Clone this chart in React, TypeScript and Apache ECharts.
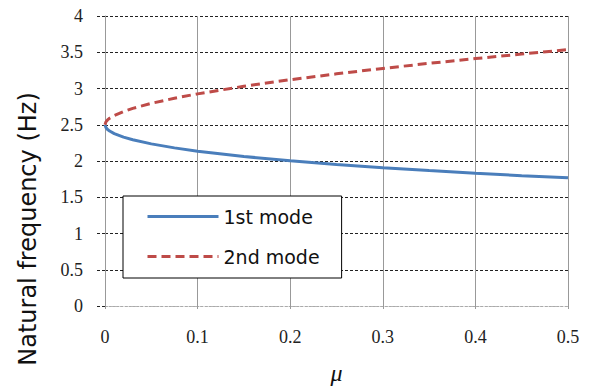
import React, { useEffect, useRef } from "react";
import * as echarts from "echarts";

const mu = [0, 0.001, 0.0025, 0.005, 0.01, 0.02, 0.03, 0.05, 0.075, 0.1, 0.15, 0.2, 0.25, 0.3, 0.35, 0.4, 0.45, 0.5];
const mode1 = [2.5, 2.461, 2.438, 2.413, 2.378, 2.329, 2.293, 2.236, 2.181, 2.136, 2.062, 2.003, 1.952, 1.907, 1.868, 1.831, 1.798, 1.768];
const mode2 = [2.5, 2.54, 2.563, 2.59, 2.628, 2.683, 2.726, 2.795, 2.866, 2.926, 3.031, 3.121, 3.202, 3.277, 3.347, 3.413, 3.475, 3.536];
const seriesNames = ["1st mode", "2nd mode"];
const yTitle = "Natural frequency (Hz)";
const xTitle = "μ";

const SERIF = "'Liberation Serif', 'DejaVu Serif', serif";
const WIDE = "'DejaVu Sans', sans-serif";
const BLUE = "#4a7ebb";
const RED = "#be4b48";

export default function App() {
  const ref = useRef<HTMLDivElement>(null);
  useEffect(() => {
    if (!ref.current) return;
    const chart = echarts.init(ref.current, undefined, { renderer: "svg" });
    chart.setOption({
      animation: false,
      backgroundColor: "#fff",
      grid: { left: 105, right: 24, top: 16, bottom: 79 },
      graphic: [
        {
          type: "text",
          x: 28,
          y: 229,
          rotation: Math.PI / 2,
          style: {
            text: yTitle,
            fontFamily: WIDE,
            fontSize: 24,
            fill: "#111",
            textAlign: "center",
            textVerticalAlign: "middle",
          },
        },
      ],
      legend: {
        orient: "vertical",
        left: 123,
        top: 196,
        padding: [11, 22, 12, 23],
        itemWidth: 71,
        itemHeight: 14,
        itemGap: 21,
        backgroundColor: "#fff",
        borderColor: "#000",
        borderWidth: 1,
        borderRadius: 0,
        itemStyle: { opacity: 0 },
        textStyle: { fontFamily: WIDE, fontSize: 19, color: "#111" },
        data: [
          { name: seriesNames[0], itemStyle: { opacity: 0 }, lineStyle: { color: BLUE, width: 3 } },
          { name: seriesNames[1], itemStyle: { opacity: 0 }, lineStyle: { color: RED, width: 3, type: [9, 5] } },
        ],
      },
      xAxis: {
        type: "value",
        min: 0,
        max: 0.5,
        interval: 0.1,
        name: xTitle,
        nameLocation: "middle",
        nameGap: 55,
        nameTextStyle: { fontFamily: SERIF, fontSize: 24, fontStyle: "italic", color: "#111" },
        axisLine: { show: true, lineStyle: { color: "#aaa", type: [2, 2], width: 1 } },
        axisTick: { show: true, length: 3, lineStyle: { color: "#999" } },
        axisLabel: { margin: 22, fontFamily: SERIF, fontSize: 18, color: "#222" },
        splitLine: { show: true, lineStyle: { color: "#999", width: 1 } },
      },
      yAxis: {
        type: "value",
        min: 0,
        max: 4,
        interval: 0.5,
        axisLine: { show: true, lineStyle: { color: "#999", width: 1 } },
        axisTick: { show: true, length: 8, lineStyle: { color: "#222", type: [3, 2] } },
        axisLabel: { margin: 22, fontFamily: SERIF, fontSize: 18, color: "#222" },
        splitLine: {
          show: true,
          lineStyle: {
            color: ["#bbb", "#222", "#222", "#222", "#222", "#222", "#222", "#222", "#222"],
            type: [3, 2],
            width: 1,
          },
        },
      },
      series: [
        {
          name: seriesNames[0],
          type: "line",
          smooth: false,
          symbol: "none",
          data: mu.map((m, i) => [m, mode1[i]]),
          lineStyle: { color: BLUE, width: 3 },
          itemStyle: { color: BLUE },
        },
        {
          name: seriesNames[1],
          type: "line",
          smooth: false,
          symbol: "none",
          data: mu.map((m, i) => [m, mode2[i]]),
          lineStyle: { color: RED, width: 3, type: [9, 5] },
          itemStyle: { color: RED },
        },
      ],
    });
    return () => chart.dispose();
  }, []);
  return <div ref={ref} style={{ width: 592, height: 390, position: "absolute", left: 0, top: 0 }} />;
}
